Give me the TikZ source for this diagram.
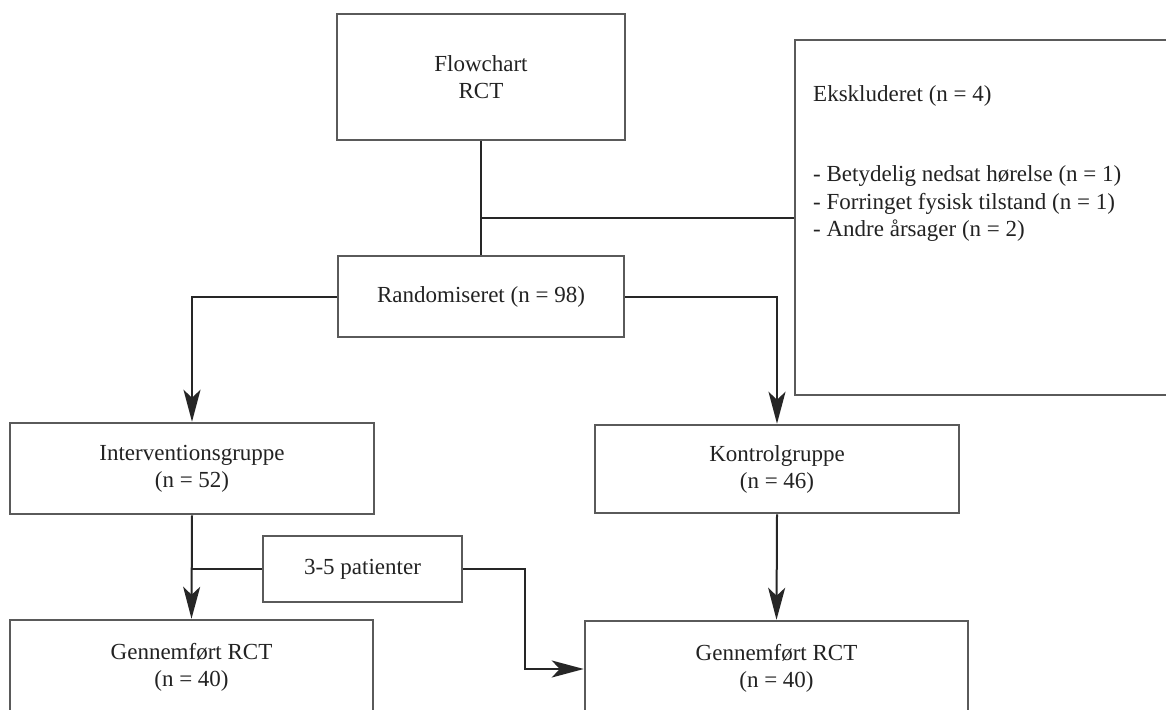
\documentclass[tikz,border=0pt]{standalone}
\usepackage{fontspec}
\setmainfont{Liberation Serif}
\usetikzlibrary{arrows.meta}
\definecolor{boxgray}{HTML}{5A5A5A}
\definecolor{linecol}{HTML}{262626}
\definecolor{txt}{HTML}{222222}
\begin{document}
\begin{tikzpicture}[x=1pt,y=-1pt,
  box/.style={draw=boxgray, line width=2.5pt, align=center, inner sep=0pt,
    text=txt, font=\fontsize{23}{27}\selectfont},
  plain/.style={inner sep=0pt, text=txt, font=\fontsize{23}{27.5}\selectfont},
  conn/.style={draw=linecol, line width=2pt},
  arr/.style={conn, -{Stealth[length=32pt,width=17pt,inset=8pt]}}]
\useasboundingbox[fill=white] (0,0) rectangle (1166,709);
% boxes
\node[box, minimum width=288pt, minimum height=126pt] (flow) at (481,77) {Flowchart\\RCT};
\node[box, minimum width=380pt, minimum height=355pt] (excl) at (985,217.5) {};
\node[plain, anchor=west] (excltitle) at (813,96) {Ekskluderet (n = 4)};
\node[plain, anchor=west, align=left] (excllist) at (813,203.5)
  {- Betydelig nedsat hørelse (n = 1)\\- Forringet fysisk tilstand (n = 1)\\- Andre årsager (n = 2)};
\node[box, minimum width=286pt, minimum height=81pt] (rand) at (481,296.5) {Randomiseret (n = 98)};
\node[box, minimum width=364pt, minimum height=91pt] (interv) at (192,468.5) {Interventionsgruppe\\(n = 52)};
\node[box, minimum width=364pt, minimum height=88pt] (kontrol) at (777,469) {Kontrolgruppe\\(n = 46)};
\node[box, minimum width=199pt, minimum height=66pt] (pat) at (362.5,569) {3-5 patienter};
\node[box, minimum width=363pt, minimum height=94pt] (gen1) at (191.5,667) {Gennemført RCT\\(n = 40)};
\node[box, minimum width=383pt, minimum height=94pt] (gen2) at (776.5,668) {Gennemført RCT\\(n = 40)};
% connectors
\draw[conn] (flow.south) -- (rand.north);
\draw[conn] (flow.south |- excl.west) -- (excl.west);
\draw[arr] (rand.west) -| (interv.north);
\draw[arr] (rand.east) -| (kontrol.north);
\draw[arr] (interv.south) -- (gen1.north);
\draw[conn] (pat.west) -- (pat.west -| interv.south);
\coordinate (bend) at ([xshift=62pt]pat.east);
\draw[arr] (pat.east) -- (bend) |- ([yshift=-1pt]gen2.west);
\draw[arr] (kontrol.south) -- (gen2.north);
\end{tikzpicture}
\end{document}
